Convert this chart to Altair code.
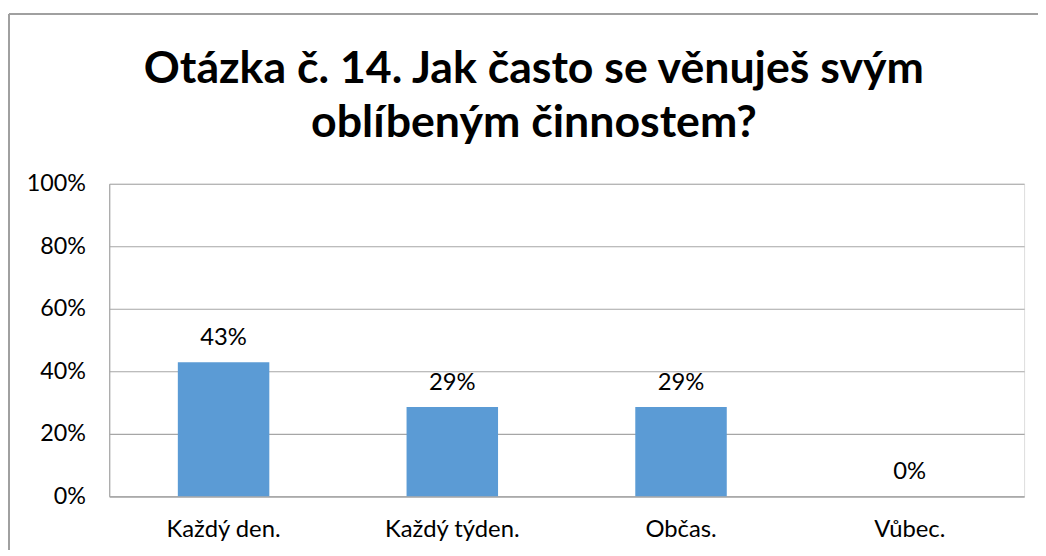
import altair as alt
import pandas as pd

categories = ["Každý den.", "Každý týden.", "Občas.", "Vůbec."]
values = [42.86, 28.57, 28.57, 0.0]
labels = ["43%", "29%", "29%", "0%"]
y_ticks = [0, 20, 40, 60, 80, 100]
title_lines = ["Otázka č. 14. Jak často se věnuješ svým", "oblíbeným činnostem?"]

df = pd.DataFrame({"kategorie": categories, "hodnota": values, "popisek": labels})

FONT = "Lato"

x_enc = alt.X(
    "kategorie:N",
    sort=categories,
    title=None,
    scale=alt.Scale(paddingInner=0.6, paddingOuter=0.3),
    axis=alt.Axis(
        labelAngle=0, labelFontSize=24, labelFont=FONT, labelColor="#000000",
        labelPadding=21, ticks=False, domainColor="#a6a6a6", domainWidth=1.2,
        grid=False,
    ),
)
y_enc = alt.Y(
    "hodnota:Q",
    title=None,
    scale=alt.Scale(domain=[0, 100]),
    axis=alt.Axis(
        values=y_ticks, labelExpr="datum.value + '%'", labelFontSize=23.5,
        labelFont=FONT, labelColor="#000000", labelPadding=24, ticks=False,
        domainColor="#a6a6a6", domainWidth=1.2, gridColor="#a6a6a6", gridWidth=1.2,
    ),
)

bars = alt.Chart(df).mark_bar(color="#5B9BD5").encode(x=x_enc, y=y_enc)

text = alt.Chart(df).mark_text(
    dy=-17, baseline="alphabetic", fontSize=24, font=FONT, color="#000000"
).encode(x=alt.X("kategorie:N", sort=categories), y="hodnota:Q", text="popisek:N")

frame_left = alt.Chart(df).mark_rule(color="#a0a0a0", strokeWidth=2).encode(
    x=alt.value(-101), y=alt.value(-171), y2=alt.value(400)
)
frame_top = alt.Chart(df).mark_rule(color="#a0a0a0", strokeWidth=2).encode(
    x=alt.value(-101), x2=alt.value(940), y=alt.value(-171)
)

chart = (
    alt.layer(frame_left, frame_top, bars, text)
    .properties(
        width=922,
        height=315,
        title=alt.TitleParams(
            text=title_lines, fontSize=45, font=FONT, fontWeight="bold",
            color="#000000", anchor="middle", dx=-33, lineHeight=55, offset=0,
            baseline="alphabetic", dy=170,
        ),
        autosize=alt.AutoSizeParams(type="none"),
        padding={"left": 102, "top": 175, "right": 14, "bottom": 52},
    )
    .configure_view(stroke=None)
    .configure(background="#ffffff")
)

chart.save("out.html", embed_options={"renderer": "svg", "actions": False})
